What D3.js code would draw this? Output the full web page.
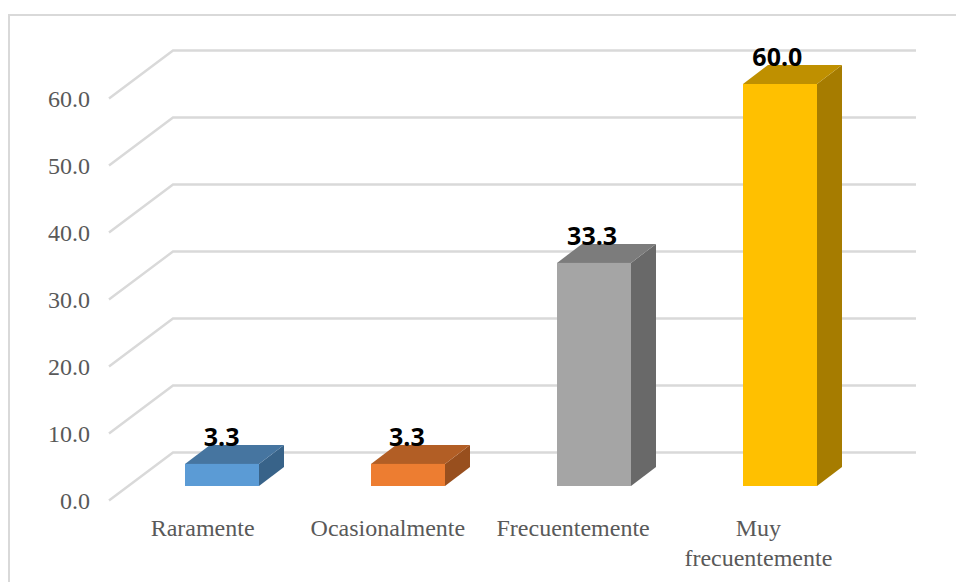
<!DOCTYPE html>
<html><head><meta charset="utf-8">
<script src="https://cdn.jsdelivr.net/npm/d3@7"></script>
<style>html,body{margin:0;padding:0;background:#fff}svg{display:block}</style></head>
<body><svg id="c" width="956" height="582"></svg>
<script>
const categories = ["Raramente","Ocasionalmente","Frecuentemente","Muy frecuentemente"];
const values = [3.3,3.3,33.3,60.0];
const tickValues = [0,10,20,30,40,50,60];
const frontColors = ["#5B9BD5","#ED7D31","#A5A5A5","#FFC000"];
const topColors = ["#4675A0","#B25E25","#7C7C7C","#BF9000"];
const sideColors = ["#386389","#984F1E","#696969","#A67C00"];

const svg = d3.select("#c");
const W=956,H=582;
const xLabel = d3.scaleBand().domain(categories).range([110,851]);
const xBar = d3.scaleBand().domain(categories).range([129,873]);
const y = d3.scaleLinear().domain([0,60]).range([500.5,98.5]);
const wallDx=64, wallDy=-48;       // depth of the floor/wall
const barShiftY=-14.5;             // bars stand inside the floor
const barW=74, barDx=25, barDy=-19;

// frame
svg.append("path").attr("d",`M9,${H}V15H${W}`).attr("fill","none").attr("stroke","#d9d9d9").attr("stroke-width",2);

// gridlines
svg.append("g").selectAll("path").data(tickValues).join("path")
  .attr("d",d=>`M109,${y(d)}L${109+wallDx},${y(d)+wallDy}H916`)
  .attr("fill","none").attr("stroke","#d9d9d9").attr("stroke-width",2.4);

// tick labels
svg.append("g").selectAll("text").data(tickValues).join("text")
  .attr("x",90).attr("y",d=>y(d)).attr("dy","0.35em").attr("text-anchor","end")
  .attr("font-family","Liberation Serif").attr("font-size",24).attr("fill","#595959")
  .text(d=>d.toFixed(1));

// bars
const bars = svg.append("g").selectAll("g").data(categories).join("g");
const bx = c=>xBar(c)+xBar.bandwidth()/2-barW/2;
const val = i=>values[i];
bars.append("path").attr("fill",(c,i)=>sideColors[i])
  .attr("d",(c,i)=>{const l=bx(c)+barW,t=y(val(i))+barShiftY,b=y(0)+barShiftY;
    return `M${l},${t}l${barDx},${barDy}V${b+barDy}L${l},${b}Z`;});
bars.append("path").attr("fill",(c,i)=>topColors[i])
  .attr("d",(c,i)=>{const l=bx(c),t=y(val(i))+barShiftY;
    return `M${l},${t}l${barDx},${barDy}h${barW}l${-barDx},${-barDy}Z`;});
bars.append("rect").attr("fill",(c,i)=>frontColors[i])
  .attr("x",c=>bx(c)).attr("width",barW)
  .attr("y",(c,i)=>y(val(i))+barShiftY)
  .attr("height",(c,i)=>y(0)-y(val(i)));

// data labels
bars.append("text").attr("text-anchor","middle")
  .attr("x",c=>xLabel(c)+xLabel.bandwidth()/2+19)
  .attr("y",(c,i)=>y(val(i))+barShiftY-18)
  .attr("font-family","Open Sans").attr("font-weight",700).attr("font-size",25).attr("fill","#000")
  .text((c,i)=>val(i).toFixed(1));

// category labels
const lines = c=>c==="Muy frecuentemente"?["Muy","frecuentemente"]:[c];
const cat = svg.append("g").selectAll("text").data(categories).join("text")
  .attr("text-anchor","middle")
  .attr("font-family","Liberation Serif").attr("font-size",24).attr("fill","#595959");
cat.each(function(c){
  const t=d3.select(this), cx=xLabel(c)+xLabel.bandwidth()/2;
  lines(c).forEach((s,i)=>t.append("tspan").attr("x",cx).attr("y",536+i*29.5).text(s));
});
</script></body></html>
